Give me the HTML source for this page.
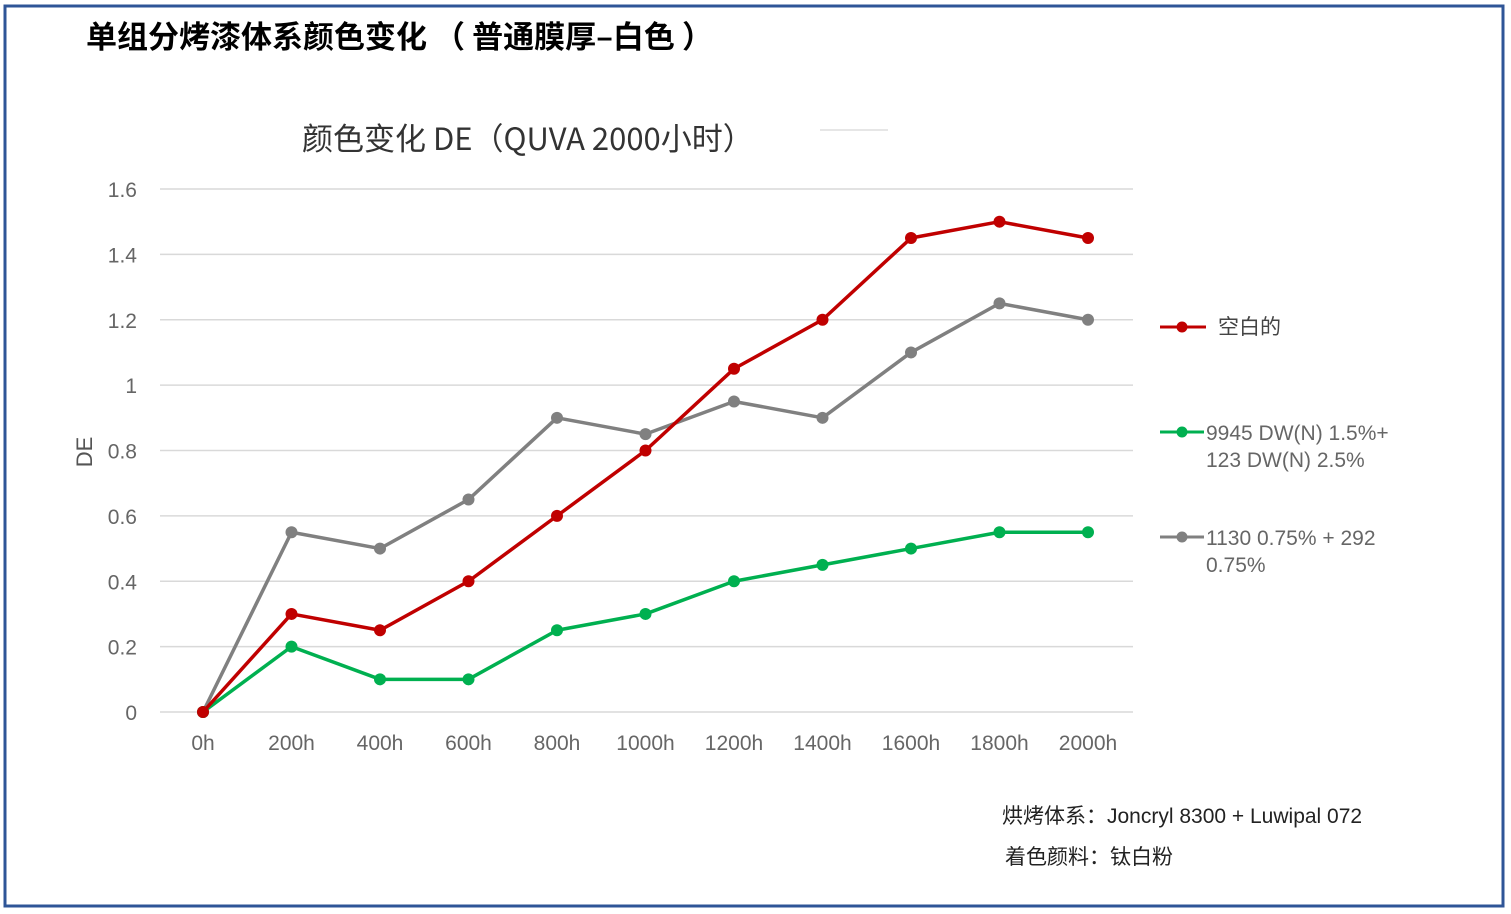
<!DOCTYPE html>
<html><head><meta charset="utf-8"><style>
body{margin:0;background:#fff;}
svg{display:block;font-family:"Liberation Sans","Noto Sans CJK SC",sans-serif;}
</style></head><body>
<svg id="c" width="1511" height="914" viewBox="0 0 1511 914" xmlns="http://www.w3.org/2000/svg">
<rect x="5" y="6" width="1498" height="900" fill="#fff" stroke="#2f5597" stroke-width="3"/>
<text x="86" y="48" font-size="31" font-weight="bold" fill="#000" font-family="'Noto Sans CJK SC',sans-serif">单组分烤漆体系颜色变化 （ 普通膜厚–白色 ）</text>
<text x="302" y="150" font-size="31" fill="#333" font-family="'Noto Sans CJK SC',sans-serif">颜色变化 DE（QUVA 2000小时）</text>
<line x1="820" y1="130" x2="888" y2="130" stroke="#ddd" stroke-width="1.5"/>
<g id="grid"></g>
<g id="ylab"></g>
<g id="xlab"></g>
<text transform="translate(92,452) rotate(-90)" text-anchor="middle" font-size="22" fill="#555">DE</text>
<g id="series"></g>
<g>
<g>
<line x1="1160" y1="327" x2="1206" y2="327" stroke="#c00000" stroke-width="3"/><circle cx="1182" cy="327" r="5.5" fill="#c00000"/>
<text x="1218" y="334" font-size="21" fill="#444">空白的</text></g>
<g>
<line x1="1160" y1="432" x2="1204" y2="432" stroke="#00b050" stroke-width="3"/><circle cx="1182" cy="432" r="5.5" fill="#00b050"/>
<text x="1206" y="440" font-size="21" fill="#666">9945 DW(N) 1.5%+</text>
<text x="1206" y="467" font-size="21" fill="#666">123 DW(N) 2.5%</text></g>
<g>
<line x1="1160" y1="537" x2="1204" y2="537" stroke="#808080" stroke-width="3"/><circle cx="1182" cy="537" r="5.5" fill="#808080"/>
<text x="1206" y="545" font-size="21" fill="#666">1130 0.75% + 292</text>
<text x="1206" y="572" font-size="21" fill="#666">0.75%</text></g>
</g>
<text x="1002" y="823" font-size="21" fill="#222">烘烤体系：Joncryl  8300 + Luwipal 072</text>
<text x="1005" y="864" font-size="21" fill="#222">着色颜料：钛白粉</text>
</svg>
<script>
const categories=["0h","200h","400h","600h","800h","1000h","1200h","1400h","1600h","1800h","2000h"];
const blankValues=[0,0.3,0.25,0.4,0.6,0.8,1.05,1.2,1.45,1.5,1.45];
const greenValues=[0,0.2,0.1,0.1,0.25,0.3,0.4,0.45,0.5,0.55,0.55];
const grayValues=[0,0.55,0.5,0.65,0.9,0.85,0.95,0.9,1.1,1.25,1.2];
const yTicks=[0,0.2,0.4,0.6,0.8,1,1.2,1.4,1.6];
const yTickLabels=["0","0.2","0.4","0.6","0.8","1","1.2","1.4","1.6"];
const NS="http://www.w3.org/2000/svg";
const X0=203,X1=1088,Y0=712,Y1=189,YMAX=1.6;
function xs(i){return X0+(X1-X0)*i/(categories.length-1);}
function ys(v){return Y0-(Y0-Y1)*v/YMAX;}
function mk(t,a,p){const e=document.createElementNS(NS,t);for(const k in a)e.setAttribute(k,a[k]);p.appendChild(e);return e;}
const grid=document.getElementById('grid'),yl=document.getElementById('ylab'),xl=document.getElementById('xlab'),sg=document.getElementById('series');
yTicks.forEach((v,i)=>{
 const l=mk('line',{x1:160,x2:1133,y1:ys(v),y2:ys(v),stroke:'#d9d9d9','stroke-width':1.5},grid);
 
 
 const t=mk('text',{x:137,y:ys(v)+8,'text-anchor':'end','font-size':21,fill:'#666'},yl);
 t.textContent=yTickLabels[i];
 
 
});
categories.forEach((c,i)=>{
 const t=mk('text',{x:xs(i),y:750,'text-anchor':'middle','font-size':21,fill:'#666'},xl);
 t.textContent=c;
 
 
});
function series(vals,color,name){
 const g=mk('g',{},sg);
 
 
 const p=mk('polyline',{points:vals.map((v,i)=>xs(i)+','+ys(v)).join(' '),fill:'none',stroke:color,'stroke-width':3.5,'stroke-linejoin':'round'},g);
 
 
 vals.forEach((v,i)=>{
  const c=mk('circle',{cx:xs(i),cy:ys(v),r:6,fill:color},g);
  
  
 });
}
series(grayValues,'#808080','series-gray');
series(greenValues,'#00b050','series-green');
series(blankValues,'#c00000','series-blank');
</script>
</body></html>
